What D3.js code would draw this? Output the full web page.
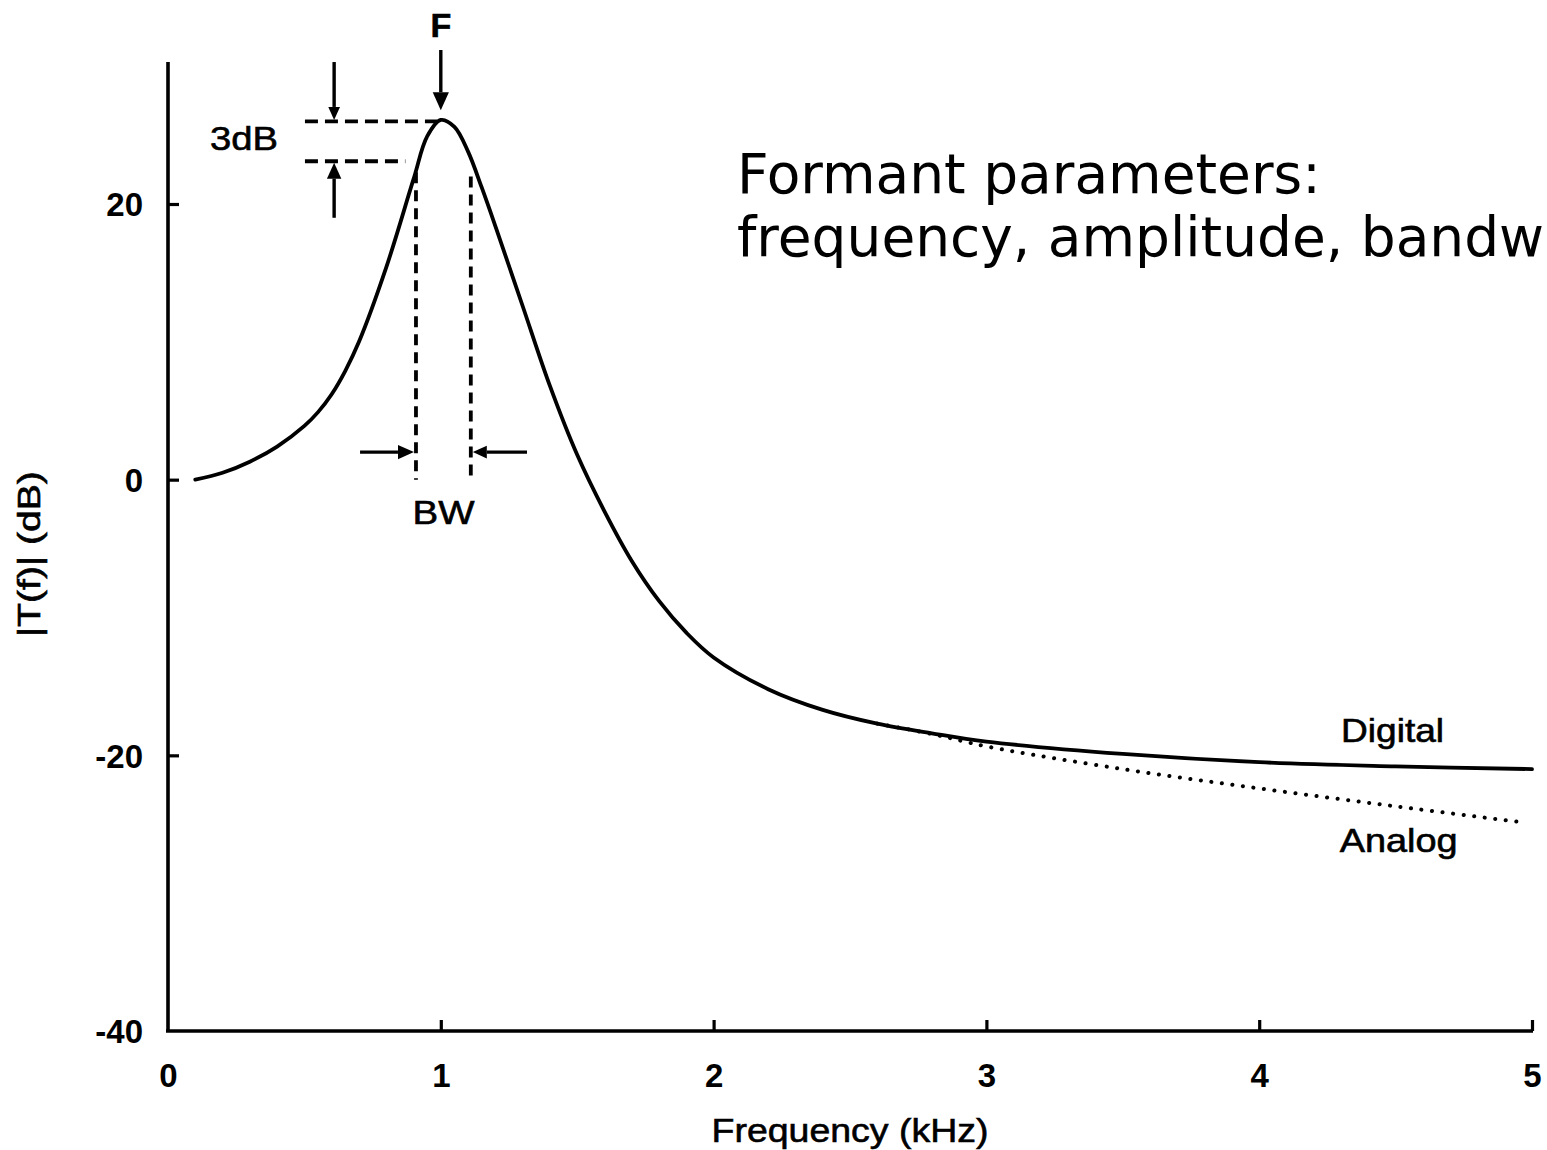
<!DOCTYPE html>
<html>
<head>
<meta charset="utf-8">
<script src="https://cdn.jsdelivr.net/npm/d3@7"></script>
<style>
  html, body { margin: 0; padding: 0; background: #fff; }
  svg { display: block; }
  text { font-family: "Liberation Sans", Arial, sans-serif; fill: #000; }
</style>
</head>
<body>
<svg id="chart" width="1547" height="1150"></svg>
<script>
// ---------------- data ----------------
const freqKHz   = [0.1, 0.2, 0.3, 0.4, 0.5, 0.55, 0.6, 0.65, 0.7, 0.8, 0.9, 0.95, 1.0, 1.05, 1.1, 1.15, 1.2, 1.3, 1.4, 1.5, 1.6, 1.7, 1.8, 1.9, 2.0, 2.2, 2.4, 2.6, 2.8, 3.0, 3.5, 4.0, 4.5, 5.0];
const digitalDb = [0.0, 0.5, 1.3, 2.4, 3.9, 4.9, 6.2, 7.9, 10.0, 15.4, 21.8, 24.9, 26.1, 25.6, 23.8, 21.2, 18.4, 12.6, 6.8, 1.8, -2.3, -5.9, -8.8, -11.1, -12.9, -15.2, -16.7, -17.7, -18.4, -19.0, -19.9, -20.5, -20.8, -21.0];
const analogFreqKHz = [2.6, 2.8, 3.0, 3.5, 4.0, 4.5, 4.98];
const analogDb      = [-17.7, -18.45, -19.35, -21.0, -22.4, -23.7, -24.9];

const xTicks = [0, 1, 2, 3, 4, 5];
const yTicks = [-40, -20, 0, 20];
const xTitle = "Frequency (kHz)";
const yTitle = "|T(f)| (dB)";
const seriesLabels = ["Digital", "Analog"];
const slideText = ["Formant parameters:", "frequency, amplitude, bandw"];

// formant annotation values (kHz / dB)
const formantF = 1.0;
const peakDb = 26.0;
const halfPowerDb = 23.1;
const bwEdges = [0.909, 1.11];

// ---------------- layout ----------------
const svg = d3.select("#chart");
const x = d3.scaleLinear().domain([0, 5]).range([168, 1532]);
const y = d3.scaleLinear().domain([-40, 20]).range([1031, 204]);
const yAxisTop = 30.3;

const g = svg.append("g");

// axes
const yAxis = d3.axisLeft(y).tickValues(yTicks).tickSize(-11).tickPadding(25).tickFormat(d => String(d));
const xAxis = d3.axisBottom(x).tickValues(xTicks).tickSize(-11).tickPadding(33).tickFormat(d => String(d));

const gy = g.append("g").attr("transform", `translate(${x(0)},0)`).call(yAxis);
const gx = g.append("g").attr("transform", `translate(0,${y(-40)})`).call(xAxis);
[gx, gy].forEach(a => {
  a.select(".domain").remove();
  a.selectAll(".tick line").attr("stroke", "#000").attr("stroke-width", 3.2);
  a.selectAll(".tick text").attr("font-size", 33).attr("font-weight", "bold")
    .attr("font-family", "Liberation Sans, Arial, sans-serif").attr("fill", "#000");
});
gy.selectAll(".tick").filter(d => d === -40).select("line").remove();
gx.selectAll(".tick").filter(d => d === 0).select("line").remove();
gy.selectAll(".tick text").attr("dy", "0.36em");

// axis lines
g.append("line").attr("x1", x(0)).attr("x2", x(0)).attr("y1", y(yAxisTop)).attr("y2", y(-40))
  .attr("stroke", "#000").attr("stroke-width", 3.6);
g.append("line").attr("x1", x(0) - 2).attr("x2", x(5) + 1).attr("y1", y(-40)).attr("y2", y(-40))
  .attr("stroke", "#000").attr("stroke-width", 3.6);

// helper for slightly heavier scanned-looking labels
function label(sel) { return sel.attr("stroke", "#000").attr("stroke-width", 0.6); }

// axis titles
label(g.append("text").attr("x", x(2.5)).attr("y", 1142).attr("text-anchor", "middle")
  .attr("font-size", 34).attr("textLength", 277).attr("lengthAdjust", "spacingAndGlyphs").text(xTitle));
label(g.append("text").attr("transform", `translate(40,${y(-5.4)}) rotate(-90)`).attr("text-anchor", "middle")
  .attr("font-size", 31).attr("textLength", 166).attr("lengthAdjust", "spacingAndGlyphs").text(yTitle));

// curves
const digitalPts = freqKHz.map((f, i) => [f, digitalDb[i]]);
const analogPts = analogFreqKHz.map((f, i) => [f, analogDb[i]]);
const line = d3.line().x(d => x(d[0])).y(d => y(d[1])).curve(d3.curveCatmullRom.alpha(0.5));

g.append("path").attr("d", line(analogPts)).attr("fill", "none").attr("stroke", "#000")
  .attr("stroke-width", 4).attr("stroke-linecap", "round").attr("stroke-dasharray", "0.1 10.5");
g.append("path").attr("d", line(digitalPts)).attr("fill", "none").attr("stroke", "#000")
  .attr("stroke-width", 3.8).attr("stroke-linejoin", "round").attr("stroke-linecap", "round");

// series labels
label(g.append("text").attr("x", x(4.30)).attr("y", y(-19.0)).attr("font-size", 33)
  .attr("textLength", 103).attr("lengthAdjust", "spacingAndGlyphs").text(seriesLabels[0]));
label(g.append("text").attr("x", x(4.295)).attr("y", y(-27.0)).attr("font-size", 33)
  .attr("textLength", 118).attr("lengthAdjust", "spacingAndGlyphs").text(seriesLabels[1]));

// ---------- annotations ----------
function arrow(x1, y1, x2, y2, head) {
  const ang = Math.atan2(y2 - y1, x2 - x1);
  const L = head, W = head * 0.45;
  const bx = x2 - L * Math.cos(ang), by = y2 - L * Math.sin(ang);
  g.append("line").attr("x1", x1).attr("y1", y1).attr("x2", bx).attr("y2", by)
    .attr("stroke", "#000").attr("stroke-width", 3.4);
  const p = [[x2, y2],
             [bx + W * Math.sin(ang), by - W * Math.cos(ang)],
             [bx - W * Math.sin(ang), by + W * Math.cos(ang)]];
  g.append("path").attr("d", "M" + p.map(q => q.join(",")).join("L") + "Z").attr("fill", "#000");
}
function dashed(x1, y1, x2, y2, dash) {
  g.append("line").attr("x1", x1).attr("y1", y1).attr("x2", x2).attr("y2", y2)
    .attr("stroke", "#000").attr("stroke-width", 3.8).attr("stroke-dasharray", dash);
}

// F label + arrow
label(g.append("text").attr("x", x(formantF)).attr("y", 37).attr("text-anchor", "middle")
  .attr("font-size", 34).attr("font-weight", "bold").text("F"));
arrow(x(formantF), 50, x(formantF), y(peakDb + 0.8), 18);

// 3 dB markers
dashed(x(0.502), y(peakDb), x(0.986), y(peakDb), "13 7");
dashed(x(0.502), y(halfPowerDb), x(0.87), y(halfPowerDb), "13 7");
arrow(x(0.609), y(yAxisTop), x(0.609), y(peakDb + 0.1), 13);
arrow(x(0.609), y(19.0), x(0.609), y(halfPowerDb - 0.1), 16);
label(g.append("text").attr("x", x(0.279)).attr("y", y(23.9)).attr("text-anchor", "middle")
  .attr("font-size", 33).attr("textLength", 68).attr("lengthAdjust", "spacingAndGlyphs").text("3dB"));

// bandwidth markers
dashed(x(bwEdges[0]), y(22.3), x(bwEdges[0]), y(0), "11 7");
dashed(x(bwEdges[1]), y(22.0), x(bwEdges[1]), y(0), "11 7");
arrow(x(0.704), y(2.0), x(bwEdges[0]) - 2, y(2.0), 16);
arrow(x(1.316), y(2.0), x(bwEdges[1]) + 2, y(2.0), 14);
label(g.append("text").attr("x", x(1.01)).attr("y", y(-3.2)).attr("text-anchor", "middle")
  .attr("font-size", 33).attr("textLength", 62).attr("lengthAdjust", "spacingAndGlyphs").text("BW"));

// slide text
const st = svg.append("text").attr("font-family", "DejaVu Sans, Verdana, sans-serif").attr("font-size", 55);
st.append("tspan").attr("x", 737).attr("y", 193).style("font-family", "DejaVu Sans").text(slideText[0]);
st.append("tspan").attr("x", 737).attr("y", 256).style("font-family", "DejaVu Sans").text(slideText[1]);
</script>
</body>
</html>
